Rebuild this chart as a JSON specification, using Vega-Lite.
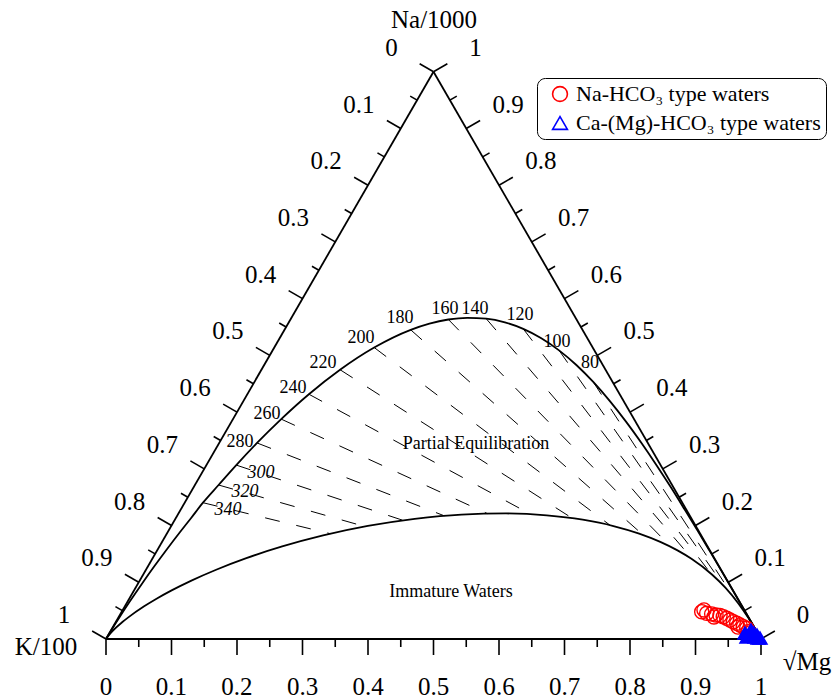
{
  "$schema": "https://vega.github.io/schema/vega-lite/v6.json",
  "width": 835,
  "height": 700,
  "autosize": {"type": "none"},
  "padding": 0,
  "background": "white",
  "config": {"view": {"stroke": null}},
  "datasets": {
    "edges": [
      {"x": 0, "y": 0, "x2": 1, "y2": 0},
      {"x": 0, "y": 0, "x2": 0.5, "y2": 0.866025},
      {"x": 1, "y": 0, "x2": 0.5, "y2": 0.866025}
    ],
    "ticks": [
      {"x": 0, "y": 0, "x2": 0, "y2": -0.02443},
      {"x": 0.05, "y": 0, "x2": 0.05, "y2": -0.01221},
      {"x": 0.1, "y": 0, "x2": 0.1, "y2": -0.02443},
      {"x": 0.15, "y": 0, "x2": 0.15, "y2": -0.01221},
      {"x": 0.2, "y": 0, "x2": 0.2, "y2": -0.02443},
      {"x": 0.25, "y": 0, "x2": 0.25, "y2": -0.01221},
      {"x": 0.3, "y": 0, "x2": 0.3, "y2": -0.02443},
      {"x": 0.35, "y": 0, "x2": 0.35, "y2": -0.01221},
      {"x": 0.4, "y": 0, "x2": 0.4, "y2": -0.02443},
      {"x": 0.45, "y": 0, "x2": 0.45, "y2": -0.01221},
      {"x": 0.5, "y": 0, "x2": 0.5, "y2": -0.02443},
      {"x": 0.55, "y": 0, "x2": 0.55, "y2": -0.01221},
      {"x": 0.6, "y": 0, "x2": 0.6, "y2": -0.02443},
      {"x": 0.65, "y": 0, "x2": 0.65, "y2": -0.01221},
      {"x": 0.7, "y": 0, "x2": 0.7, "y2": -0.02443},
      {"x": 0.75, "y": 0, "x2": 0.75, "y2": -0.01221},
      {"x": 0.8, "y": 0, "x2": 0.8, "y2": -0.02443},
      {"x": 0.85, "y": 0, "x2": 0.85, "y2": -0.01221},
      {"x": 0.9, "y": 0, "x2": 0.9, "y2": -0.02443},
      {"x": 0.95, "y": 0, "x2": 0.95, "y2": -0.01221},
      {"x": 1, "y": 0, "x2": 1, "y2": -0.02443},
      {"x": 0.5, "y": 0.866025, "x2": 0.47884, "y2": 0.87824},
      {"x": 0.475, "y": 0.822724, "x2": 0.464425, "y2": 0.828829},
      {"x": 0.45, "y": 0.779423, "x2": 0.42884, "y2": 0.791638},
      {"x": 0.425, "y": 0.736121, "x2": 0.414425, "y2": 0.742226},
      {"x": 0.4, "y": 0.69282, "x2": 0.37884, "y2": 0.705035},
      {"x": 0.375, "y": 0.649519, "x2": 0.364425, "y2": 0.655624},
      {"x": 0.35, "y": 0.606218, "x2": 0.32884, "y2": 0.618433},
      {"x": 0.325, "y": 0.562916, "x2": 0.314425, "y2": 0.569021},
      {"x": 0.3, "y": 0.519615, "x2": 0.27884, "y2": 0.53183},
      {"x": 0.275, "y": 0.476314, "x2": 0.264425, "y2": 0.482419},
      {"x": 0.25, "y": 0.433013, "x2": 0.22884, "y2": 0.445228},
      {"x": 0.225, "y": 0.389711, "x2": 0.214425, "y2": 0.395816},
      {"x": 0.2, "y": 0.34641, "x2": 0.17884, "y2": 0.358625},
      {"x": 0.175, "y": 0.303109, "x2": 0.164425, "y2": 0.309214},
      {"x": 0.15, "y": 0.259808, "x2": 0.12884, "y2": 0.272023},
      {"x": 0.125, "y": 0.216506, "x2": 0.114425, "y2": 0.222611},
      {"x": 0.1, "y": 0.173205, "x2": 0.07884, "y2": 0.18542},
      {"x": 0.075, "y": 0.129904, "x2": 0.064425, "y2": 0.136009},
      {"x": 0.05, "y": 0.086603, "x2": 0.02884, "y2": 0.098818},
      {"x": 0.025, "y": 0.043301, "x2": 0.014425, "y2": 0.049406},
      {"x": 0, "y": 0, "x2": -0.02116, "y2": 0.012215},
      {"x": 1, "y": 0, "x2": 1.02116, "y2": 0.012215},
      {"x": 0.975, "y": 0.043301, "x2": 0.985575, "y2": 0.049406},
      {"x": 0.95, "y": 0.086603, "x2": 0.97116, "y2": 0.098818},
      {"x": 0.925, "y": 0.129904, "x2": 0.935575, "y2": 0.136009},
      {"x": 0.9, "y": 0.173205, "x2": 0.92116, "y2": 0.18542},
      {"x": 0.875, "y": 0.216506, "x2": 0.885575, "y2": 0.222611},
      {"x": 0.85, "y": 0.259808, "x2": 0.87116, "y2": 0.272023},
      {"x": 0.825, "y": 0.303109, "x2": 0.835575, "y2": 0.309214},
      {"x": 0.8, "y": 0.34641, "x2": 0.82116, "y2": 0.358625},
      {"x": 0.775, "y": 0.389711, "x2": 0.785575, "y2": 0.395816},
      {"x": 0.75, "y": 0.433013, "x2": 0.77116, "y2": 0.445228},
      {"x": 0.725, "y": 0.476314, "x2": 0.735575, "y2": 0.482419},
      {"x": 0.7, "y": 0.519615, "x2": 0.72116, "y2": 0.53183},
      {"x": 0.675, "y": 0.562916, "x2": 0.685575, "y2": 0.569021},
      {"x": 0.65, "y": 0.606218, "x2": 0.67116, "y2": 0.618433},
      {"x": 0.625, "y": 0.649519, "x2": 0.635575, "y2": 0.655624},
      {"x": 0.6, "y": 0.69282, "x2": 0.62116, "y2": 0.705035},
      {"x": 0.575, "y": 0.736121, "x2": 0.585575, "y2": 0.742226},
      {"x": 0.55, "y": 0.779423, "x2": 0.57116, "y2": 0.791638},
      {"x": 0.525, "y": 0.822724, "x2": 0.535575, "y2": 0.828829},
      {"x": 0.5, "y": 0.866025, "x2": 0.52116, "y2": 0.87824}
    ],
    "ticklabels": [
      {"x": 0, "y": -0.0733, "label": "0"},
      {"x": 0.1, "y": -0.0733, "label": "0.1"},
      {"x": 0.2, "y": -0.0733, "label": "0.2"},
      {"x": 0.3, "y": -0.0733, "label": "0.3"},
      {"x": 0.4, "y": -0.0733, "label": "0.4"},
      {"x": 0.5, "y": -0.0733, "label": "0.5"},
      {"x": 0.6, "y": -0.0733, "label": "0.6"},
      {"x": 0.7, "y": -0.0733, "label": "0.7"},
      {"x": 0.8, "y": -0.0733, "label": "0.8"},
      {"x": 0.9, "y": -0.0733, "label": "0.9"},
      {"x": 1, "y": -0.0733, "label": "1"},
      {"x": 0.4359, "y": 0.9026, "label": "0"},
      {"x": 0.3859, "y": 0.816, "label": "0.1"},
      {"x": 0.3359, "y": 0.7294, "label": "0.2"},
      {"x": 0.2859, "y": 0.6428, "label": "0.3"},
      {"x": 0.2359, "y": 0.5562, "label": "0.4"},
      {"x": 0.1859, "y": 0.4696, "label": "0.5"},
      {"x": 0.1359, "y": 0.383, "label": "0.6"},
      {"x": 0.0859, "y": 0.2964, "label": "0.7"},
      {"x": 0.0359, "y": 0.2098, "label": "0.8"},
      {"x": -0.0141, "y": 0.1232, "label": "0.9"},
      {"x": -0.0641, "y": 0.0366, "label": "1"},
      {"x": 0.5641, "y": 0.9026, "label": "1"},
      {"x": 0.6141, "y": 0.816, "label": "0.9"},
      {"x": 0.6641, "y": 0.7294, "label": "0.8"},
      {"x": 0.7141, "y": 0.6428, "label": "0.7"},
      {"x": 0.7641, "y": 0.5562, "label": "0.6"},
      {"x": 0.8141, "y": 0.4696, "label": "0.5"},
      {"x": 0.8641, "y": 0.383, "label": "0.4"},
      {"x": 0.9141, "y": 0.2964, "label": "0.3"},
      {"x": 0.9641, "y": 0.2098, "label": "0.2"},
      {"x": 1.0141, "y": 0.1232, "label": "0.1"},
      {"x": 1.0641, "y": 0.0366, "label": "0"}
    ],
    "titles": [
      {"x": 0.5008, "y": 0.945, "label": "Na/1000"},
      {"x": -0.0916, "y": -0.0122, "label": "K/100"},
      {"x": 1.0702, "y": -0.0351, "label": "√Mg"}
    ],
    "curves": [
      {"curve": "full", "x": 0, "y": 0},
      {"curve": "full", "x": 0.00552, "y": 0.00926},
      {"curve": "full", "x": 0.01398, "y": 0.02293},
      {"curve": "full", "x": 0.02085, "y": 0.03375},
      {"curve": "full", "x": 0.03551, "y": 0.0561},
      {"curve": "full", "x": 0.05625, "y": 0.08642},
      {"curve": "full", "x": 0.07376, "y": 0.111},
      {"curve": "full", "x": 0.09359, "y": 0.13791},
      {"curve": "full", "x": 0.1134, "y": 0.1638},
      {"curve": "full", "x": 0.1297, "y": 0.18444},
      {"curve": "full", "x": 0.148, "y": 0.2081},
      {"curve": "full", "x": 0.17185, "y": 0.2351},
      {"curve": "full", "x": 0.1989, "y": 0.2655},
      {"curve": "full", "x": 0.2306, "y": 0.2993},
      {"curve": "full", "x": 0.2675, "y": 0.3357},
      {"curve": "full", "x": 0.30975, "y": 0.3737},
      {"curve": "full", "x": 0.35735, "y": 0.4111},
      {"curve": "full", "x": 0.40945, "y": 0.445},
      {"curve": "full", "x": 0.4652, "y": 0.472},
      {"curve": "full", "x": 0.4938, "y": 0.4815},
      {"curve": "full", "x": 0.5227, "y": 0.4878},
      {"curve": "full", "x": 0.5516, "y": 0.4904},
      {"curve": "full", "x": 0.5805, "y": 0.489},
      {"curve": "full", "x": 0.609, "y": 0.4834},
      {"curve": "full", "x": 0.637, "y": 0.4735},
      {"curve": "full", "x": 0.6646, "y": 0.4592},
      {"curve": "full", "x": 0.69167, "y": 0.44068},
      {"curve": "full", "x": 0.7181, "y": 0.4183},
      {"curve": "full", "x": 0.7439, "y": 0.3924},
      {"curve": "full", "x": 0.7693, "y": 0.3632},
      {"curve": "full", "x": 0.7939, "y": 0.3319},
      {"curve": "full", "x": 0.8178, "y": 0.2988},
      {"curve": "full", "x": 0.841, "y": 0.2646},
      {"curve": "full", "x": 0.86315, "y": 0.2304},
      {"curve": "full", "x": 0.884, "y": 0.1968},
      {"curve": "full", "x": 0.90361, "y": 0.16475},
      {"curve": "full", "x": 0.9214, "y": 0.1349},
      {"curve": "full", "x": 0.93738, "y": 0.10782},
      {"curve": "full", "x": 0.9514, "y": 0.0839},
      {"curve": "full", "x": 0.96843, "y": 0.05459},
      {"curve": "full", "x": 0.981, "y": 0.033},
      {"curve": "full", "x": 0.9947, "y": 0.0092},
      {"curve": "full", "x": 1, "y": 0},
      {"curve": "immature", "x": 0, "y": 0},
      {"curve": "immature", "x": 0.00665, "y": 0.00856},
      {"curve": "immature", "x": 0.02549, "y": 0.02627},
      {"curve": "immature", "x": 0.03355, "y": 0.03267},
      {"curve": "immature", "x": 0.0582, "y": 0.0499},
      {"curve": "immature", "x": 0.07651, "y": 0.0611},
      {"curve": "immature", "x": 0.10018, "y": 0.07422},
      {"curve": "immature", "x": 0.13038, "y": 0.08919},
      {"curve": "immature", "x": 0.16818, "y": 0.10579},
      {"curve": "immature", "x": 0.21425, "y": 0.12346},
      {"curve": "immature", "x": 0.26902, "y": 0.14127},
      {"curve": "immature", "x": 0.33143, "y": 0.1581},
      {"curve": "immature", "x": 0.39975, "y": 0.17259},
      {"curve": "immature", "x": 0.47129, "y": 0.1835},
      {"curve": "immature", "x": 0.54264, "y": 0.18998},
      {"curve": "immature", "x": 0.61072, "y": 0.19166},
      {"curve": "immature", "x": 0.67297, "y": 0.18881},
      {"curve": "immature", "x": 0.72782, "y": 0.18211},
      {"curve": "immature", "x": 0.77476, "y": 0.17247},
      {"curve": "immature", "x": 0.81396, "y": 0.16092},
      {"curve": "immature", "x": 0.84624, "y": 0.14826},
      {"curve": "immature", "x": 0.87252, "y": 0.13526},
      {"curve": "immature", "x": 0.89381, "y": 0.12242},
      {"curve": "immature", "x": 0.92509, "y": 0.09852},
      {"curve": "immature", "x": 0.94595, "y": 0.07802},
      {"curve": "immature", "x": 0.96574, "y": 0.05395},
      {"curve": "immature", "x": 0.9806, "y": 0.03233},
      {"curve": "immature", "x": 0.9902, "y": 0.01676},
      {"curve": "immature", "x": 0.99667, "y": 0.00575},
      {"curve": "immature", "x": 1, "y": 0}
    ],
    "isotherms": [
      {"T": 80, "x": 0.7439, "y": 0.3924, "x2": 0.9594, "y2": 0.06218},
      {"T": 100, "x": 0.69167, "y": 0.44068, "x2": 0.94376, "y2": 0.08039},
      {"T": 120, "x": 0.637, "y": 0.4735, "x2": 0.9232, "y2": 0.1002},
      {"T": 140, "x": 0.5805, "y": 0.489, "x2": 0.89652, "y2": 0.12063},
      {"T": 160, "x": 0.5227, "y": 0.4878, "x2": 0.86239, "y2": 0.14061},
      {"T": 180, "x": 0.4652, "y": 0.472, "x2": 0.82007, "y2": 0.15878},
      {"T": 200, "x": 0.40945, "y": 0.445, "x2": 0.76944, "y2": 0.17377},
      {"T": 220, "x": 0.35735, "y": 0.4111, "x2": 0.71144, "y2": 0.1846},
      {"T": 240, "x": 0.30975, "y": 0.3737, "x2": 0.64812, "y2": 0.19052},
      {"T": 260, "x": 0.2675, "y": 0.3357, "x2": 0.58212, "y2": 0.19149},
      {"T": 280, "x": 0.2306, "y": 0.2993, "x2": 0.51635, "y2": 0.18811},
      {"T": 300, "x": 0.1989, "y": 0.2655, "x2": 0.45344, "y2": 0.18115},
      {"T": 320, "x": 0.17185, "y": 0.2351, "x2": 0.39514, "y2": 0.17176},
      {"T": 340, "x": 0.148, "y": 0.2081, "x2": 0.34267, "y2": 0.16075}
    ],
    "tlabels": [
      {"x": 0.7389, "y": 0.4214, "label": "80"},
      {"x": 0.6885, "y": 0.4534, "label": "100"},
      {"x": 0.6321, "y": 0.4947, "label": "120"},
      {"x": 0.5634, "y": 0.5038, "label": "140"},
      {"x": 0.5176, "y": 0.5038, "label": "160"},
      {"x": 0.4489, "y": 0.4901, "label": "180"},
      {"x": 0.3893, "y": 0.4595, "label": "200"},
      {"x": 0.3313, "y": 0.4214, "label": "220"},
      {"x": 0.2855, "y": 0.3832, "label": "240"},
      {"x": 0.2458, "y": 0.3435, "label": "260"},
      {"x": 0.2046, "y": 0.3008, "label": "280"}
    ],
    "tlabels_it": [
      {"x": 0.2366, "y": 0.2534, "label": "300"},
      {"x": 0.2122, "y": 0.2244, "label": "320"},
      {"x": 0.1863, "y": 0.1969, "label": "340"}
    ],
    "regions": [
      {"x": 0.5649, "y": 0.2977, "label": "Partial Equilibration"},
      {"x": 0.5267, "y": 0.0718, "label": "Immature Waters"}
    ],
    "samples": [
      {"x": 0.9095, "y": 0.0417, "type": "Na-HCO₃ type waters"},
      {"x": 0.913, "y": 0.0443, "type": "Na-HCO₃ type waters"},
      {"x": 0.9171, "y": 0.0392, "type": "Na-HCO₃ type waters"},
      {"x": 0.9247, "y": 0.0382, "type": "Na-HCO₃ type waters"},
      {"x": 0.9282, "y": 0.0336, "type": "Na-HCO₃ type waters"},
      {"x": 0.9313, "y": 0.0366, "type": "Na-HCO₃ type waters"},
      {"x": 0.9374, "y": 0.0359, "type": "Na-HCO₃ type waters"},
      {"x": 0.9424, "y": 0.034, "type": "Na-HCO₃ type waters"},
      {"x": 0.9476, "y": 0.0316, "type": "Na-HCO₃ type waters"},
      {"x": 0.9527, "y": 0.029, "type": "Na-HCO₃ type waters"},
      {"x": 0.9577, "y": 0.0264, "type": "Na-HCO₃ type waters"},
      {"x": 0.9629, "y": 0.024, "type": "Na-HCO₃ type waters"},
      {"x": 0.9649, "y": 0.0183, "type": "Na-HCO₃ type waters"},
      {"x": 0.9679, "y": 0.0214, "type": "Na-HCO₃ type waters"},
      {"x": 0.973, "y": 0.0188, "type": "Na-HCO₃ type waters"},
      {"x": 0.9782, "y": 0.0163, "type": "Na-HCO₃ type waters"},
      {"x": 0.9806, "y": 0.0111, "type": "Na-HCO₃ type waters"},
      {"x": 0.9832, "y": 0.0092, "type": "Na-HCO₃ type waters"},
      {"x": 0.9756, "y": 0.0092, "type": "Ca-(Mg)-HCO₃ type waters"},
      {"x": 0.9786, "y": 0.0031, "type": "Ca-(Mg)-HCO₃ type waters"},
      {"x": 0.9817, "y": 0.0061, "type": "Ca-(Mg)-HCO₃ type waters"},
      {"x": 0.9847, "y": 0.0137, "type": "Ca-(Mg)-HCO₃ type waters"},
      {"x": 0.9863, "y": 0.0046, "type": "Ca-(Mg)-HCO₃ type waters"},
      {"x": 0.9893, "y": 0.0092, "type": "Ca-(Mg)-HCO₃ type waters"},
      {"x": 0.9908, "y": 0.0031, "type": "Ca-(Mg)-HCO₃ type waters"},
      {"x": 0.9939, "y": 0.0061, "type": "Ca-(Mg)-HCO₃ type waters"},
      {"x": 0.9954, "y": 0.0015, "type": "Ca-(Mg)-HCO₃ type waters"},
      {"x": 0.9985, "y": 0.0015, "type": "Ca-(Mg)-HCO₃ type waters"}
    ]
  },
  "encoding": {
    "x": {"field": "x", "type": "quantitative", "scale": {"domain": [-0.161832, 1.112977], "nice": false, "zero": false}, "axis": null},
    "y": {"field": "y", "type": "quantitative", "scale": {"domain": [-0.09313, 0.975573], "nice": false, "zero": false}, "axis": null}
  },
  "layer": [
    {
      "data": {"name": "edges"},
      "mark": {"type": "rule", "color": "black", "strokeWidth": 1.8},
      "encoding": {"x2": {"field": "x2"}, "y2": {"field": "y2"}}
    },
    {
      "data": {"name": "ticks"},
      "mark": {"type": "rule", "color": "black", "strokeWidth": 1.6},
      "encoding": {"x2": {"field": "x2"}, "y2": {"field": "y2"}}
    },
    {
      "data": {"name": "isotherms"},
      "mark": {"type": "rule", "color": "black", "strokeWidth": 1, "strokeDash": [15, 17]},
      "encoding": {"x2": {"field": "x2"}, "y2": {"field": "y2"}}
    },
    {
      "data": {"name": "curves"},
      "mark": {"type": "line", "color": "black", "strokeWidth": 1.8, "interpolate": "monotone"},
      "encoding": {"detail": {"field": "curve", "type": "nominal"}}
    },
    {
      "data": {"name": "ticklabels"},
      "mark": {"type": "text", "font": "Liberation Serif", "fontSize": 25, "align": "center", "baseline": "middle", "color": "black"},
      "encoding": {"text": {"field": "label"}}
    },
    {
      "data": {"name": "titles"},
      "mark": {"type": "text", "font": "Liberation Serif", "fontSize": 25, "align": "center", "baseline": "middle", "color": "black"},
      "encoding": {"text": {"field": "label"}}
    },
    {
      "data": {"name": "tlabels"},
      "mark": {"type": "text", "font": "Liberation Serif", "fontSize": 18, "align": "center", "baseline": "middle", "color": "black"},
      "encoding": {"text": {"field": "label"}}
    },
    {
      "data": {"name": "tlabels_it"},
      "mark": {"type": "text", "font": "Liberation Serif", "fontSize": 18, "fontStyle": "italic", "align": "center", "baseline": "middle", "color": "black"},
      "encoding": {"text": {"field": "label"}}
    },
    {
      "data": {"name": "regions"},
      "mark": {"type": "text", "font": "Liberation Serif", "fontSize": 18, "align": "center", "baseline": "middle", "color": "black"},
      "encoding": {"text": {"field": "label"}}
    },
    {
      "data": {"name": "samples"},
      "mark": {"type": "point", "filled": false, "size": 200, "strokeWidth": 1.4, "opacity": 1},
      "encoding": {
        "color": {"field": "type", "type": "nominal",
          "scale": {"domain": ["Na-HCO₃ type waters", "Ca-(Mg)-HCO₃ type waters"], "range": ["#ff0000", "#0000ff"]},
          "legend": {"title": null, "orient": "none", "legendX": 537, "legendY": 78, "strokeColor": "black", "fillColor": "white", "cornerRadius": 8, "padding": 5, "rowPadding": 7, "symbolOffset": 7, "labelOffset": 5, "labelFont": "Liberation Serif", "labelFontSize": 22, "labelColor": "black", "symbolSize": 220, "symbolStrokeWidth": 1.6, "labelLimit": 400}},
        "shape": {"field": "type", "type": "nominal",
          "scale": {"domain": ["Na-HCO₃ type waters", "Ca-(Mg)-HCO₃ type waters"], "range": ["circle", "triangle-up"]},
          "legend": {"title": null, "orient": "none", "legendX": 537, "legendY": 78, "strokeColor": "black", "fillColor": "white", "cornerRadius": 8, "padding": 5, "rowPadding": 7, "symbolOffset": 7, "labelOffset": 5, "labelFont": "Liberation Serif", "labelFontSize": 22, "labelColor": "black", "symbolSize": 220, "symbolStrokeWidth": 1.6, "labelLimit": 400}}
      }
    },
    {
      "data": {"name": "samples"},
      "transform": [{"filter": {"field": "type", "equal": "Ca-(Mg)-HCO₃ type waters"}}],
      "mark": {"type": "point", "filled": true, "shape": "triangle-up", "size": 200, "color": "#0000ff", "opacity": 1}
    }
  ]
}
